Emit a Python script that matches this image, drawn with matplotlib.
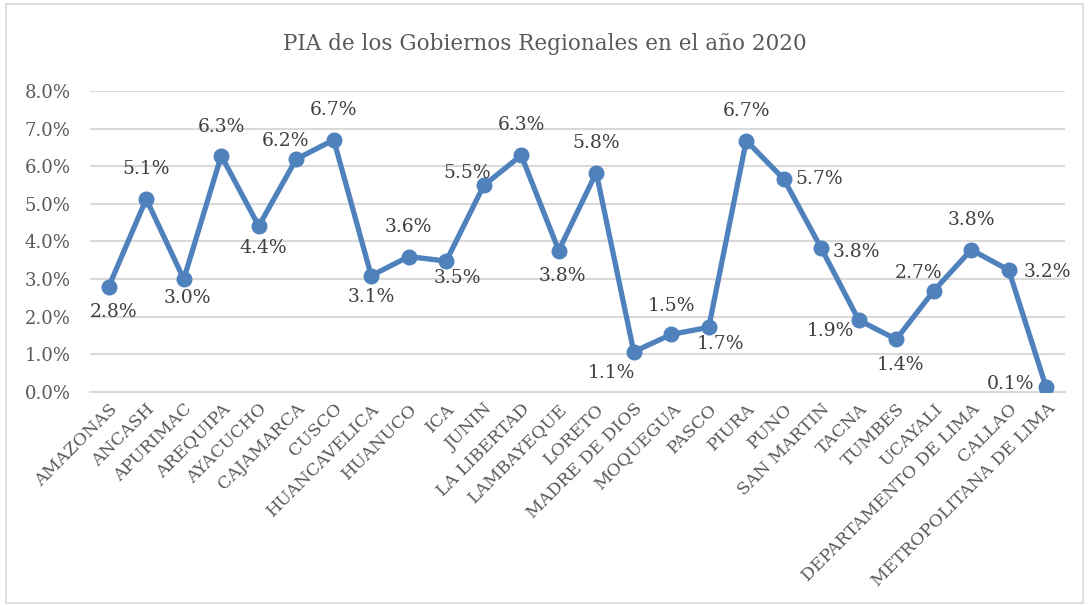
import matplotlib.pyplot as plt
from matplotlib.ticker import PercentFormatter
from matplotlib.patches import Rectangle

# Data
regiones = ["AMAZONAS", "ANCASH", "APURIMAC", "AREQUIPA", "AYACUCHO", "CAJAMARCA",
            "CUSCO", "HUANCAVELICA", "HUANUCO", "ICA", "JUNIN", "LA LIBERTAD",
            "LAMBAYEQUE", "LORETO", "MADRE DE DIOS", "MOQUEGUA", "PASCO", "PIURA",
            "PUNO", "SAN MARTIN", "TACNA", "TUMBES", "UCAYALI",
            "DEPARTAMENTO DE LIMA", "CALLAO", "METROPOLITANA DE LIMA"]
pia = [2.80, 5.13, 3.00, 6.28, 4.41, 6.19, 6.70, 3.09, 3.60, 3.48, 5.49, 6.29,
       3.76, 5.83, 1.07, 1.53, 1.72, 6.68, 5.66, 3.82, 1.91, 1.40, 2.69, 3.78,
       3.24, 0.12]
etiquetas = ["2.8%", "5.1%", "3.0%", "6.3%", "4.4%", "6.2%", "6.7%", "3.1%", "3.6%",
             "3.5%", "5.5%", "6.3%", "3.8%", "5.8%", "1.1%", "1.5%", "1.7%", "6.7%",
             "5.7%", "3.8%", "1.9%", "1.4%", "2.7%", "3.8%", "3.2%", "0.1%"]

# label offsets in pixels (dx, dy)
offsets = [(5, -25), (0, 30), (4, -19), (0, 29), (4, -22), (-11, 18), (0, 30),
           (0, -21), (0, 30), (11, -17), (-17, 12), (0, 30), (4, -25), (0, 30),
           (-22, -21), (0, 28), (12, -17), (0, 30), (35, 0), (35, -4), (-28, -11),
           (4, -26), (-15, 18), (0, 30), (39, -2), (-36, 3)]

azul = "#4F81BD"
gris = "#595959"

fig = plt.figure(figsize=(10.89, 6.05), dpi=100)
ax = fig.add_axes([90/1089, 1 - 392/605, 975/1089, 301/605])

x = list(range(len(regiones)))
ax.plot(x, pia, color=azul, linewidth=3.8, marker="o", markersize=10.5,
        solid_capstyle="round", solid_joinstyle="round", zorder=3)

for i in x:
    ax.annotate(etiquetas[i], (x[i], pia[i]), xytext=offsets[i],
                textcoords="offset pixels", ha="center", va="center",
                fontsize=13.5, color="#404040", family="DejaVu Serif")

ax.set_xlim(-0.5, len(regiones) - 0.5)
ax.set_ylim(0, 8)
ax.set_yticks(range(0, 9))
ax.yaxis.set_major_formatter(PercentFormatter(decimals=1))
ax.set_xticks(x)
ax.set_xticklabels(regiones, rotation=45, ha="right", rotation_mode="anchor")
ax.grid(axis="y", color="#D9D9D9", linewidth=1.5)
ax.set_axisbelow(True)
for s in ["top", "right", "left"]:
    ax.spines[s].set_visible(False)
ax.spines["bottom"].set_color("#D9D9D9")
ax.spines["bottom"].set_linewidth(1.5)
ax.tick_params(length=0, colors=gris)
ax.tick_params(axis="y", labelsize=13, pad=14)
ax.tick_params(axis="x", labelsize=12.5, pad=6)
for lab in ax.get_xticklabels() + ax.get_yticklabels():
    lab.set_family("DejaVu Serif")

fig.text(0.5, 1 - 44/605, "PIA de los Gobiernos Regionales en el año 2020",
         ha="center", va="center", fontsize=15.5, color=gris, family="DejaVu Serif")

fig.patches.append(Rectangle((6/1089, 0.003), 1 - 12/1089, 0.99, transform=fig.transFigure,
                             fill=False, edgecolor="#D9D9D9", linewidth=1.2))

fig.savefig("out.png", dpi=100)
